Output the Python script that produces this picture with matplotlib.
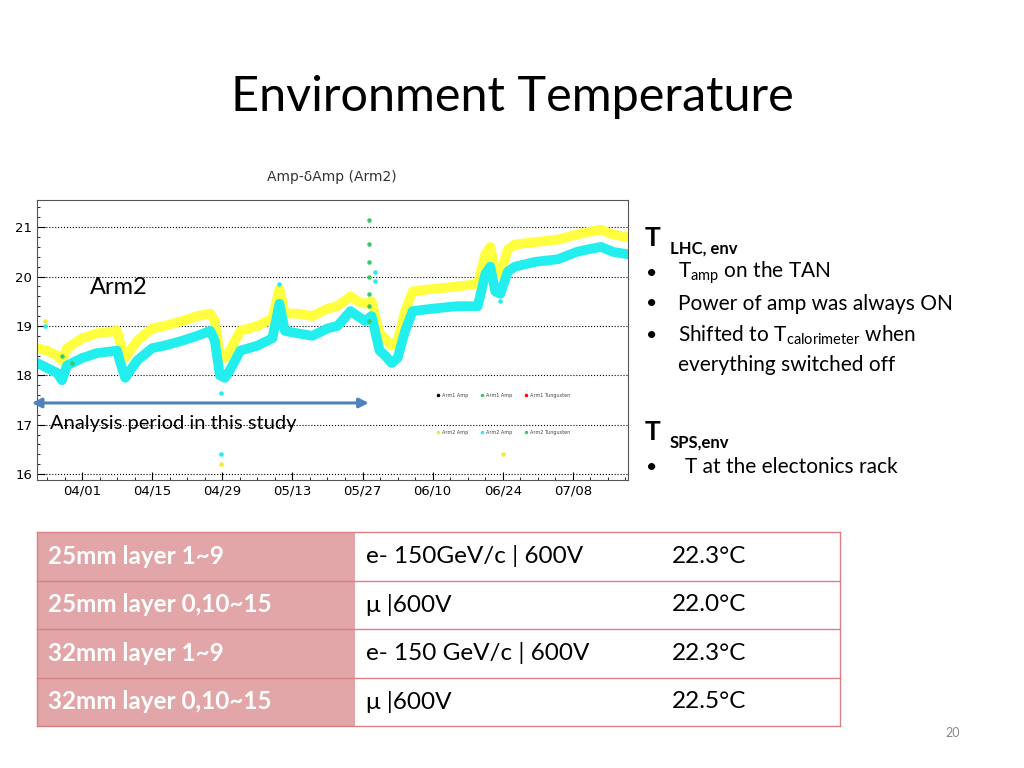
import matplotlib.pyplot as plt
from matplotlib import rcParams

rcParams['font.family'] = 'Lato'
rcParams['mathtext.fontset'] = 'custom'
rcParams['mathtext.rm'] = 'Lato'

# ---- chart data (days since 04/01) ----
days = [-9, -7, -5, -4, -3, 0, 3, 7, 7.5, 8.6, 11, 14, 16.4, 20, 23, 25.6, 26.5, 27.5,
        28.5, 29.5, 31.6, 35, 38, 39.4, 40.5, 43, 46, 49, 51, 53.6, 55, 56.5, 57.8,
        59.4, 60.5, 61.8, 63, 64.5, 66, 70, 75, 79, 80.5, 81.5, 82.5, 83.5, 85,
        86.4, 90.6, 95, 98.8, 101, 103.6, 106, 109]
cyan_t = [18.25, 18.15, 18.05, 17.9, 18.2, 18.35, 18.45, 18.5, 18.3, 17.95, 18.3, 18.55,
          18.6, 18.7, 18.8, 18.9, 18.7, 18.0, 17.95, 18.1, 18.5, 18.6, 18.75, 19.45,
          18.9, 18.85, 18.8, 18.95, 19.0, 19.3, 19.2, 19.1, 19.2, 18.5, 18.4, 18.25,
          18.35, 18.9, 19.3, 19.35, 19.4, 19.4, 20.05, 20.2, 19.7, 19.65, 20.1,
          20.2, 20.3, 20.35, 20.5, 20.55, 20.6, 20.5, 20.45]
yellow_t = [18.55, 18.5, 18.4, 18.3, 18.55, 18.75, 18.85, 18.9, 18.7, 18.35, 18.7, 18.95,
            19.0, 19.1, 19.2, 19.25, 19.1, 18.45, 18.35, 18.5, 18.9, 19.0, 19.15, 19.75,
            19.25, 19.25, 19.2, 19.35, 19.4, 19.6, 19.5, 19.45, 19.5, 18.85, 18.75,
            18.6, 18.7, 19.3, 19.7, 19.75, 19.8, 19.85, 20.45, 20.6, 20.1, 20.05,
            20.55, 20.65, 20.7, 20.75, 20.85, 20.9, 20.95, 20.85, 20.8]
green_days = [57.2, 57.2, 57.2, 57.2, 57.2, 57.2, 57.2, -4, -2]
green_vals = [21.15, 20.65, 20.3, 20.0, 19.65, 19.4, 19.1, 18.4, 18.25]
cyan_out_days = [27.8, 27.8, 58.5, 58.5, 83.5, -7.5, 39.3]
cyan_out_vals = [16.4, 17.65, 20.1, 19.9, 19.5, 19.0, 19.85]
yellow_out_days = [27.8, 84, -7.5]
yellow_out_vals = [16.2, 16.4, 19.1]

tick_days = [0, 14, 28, 42, 56, 70, 84, 98]
tick_labels = ['04/01', '04/15', '04/29', '05/13', '05/27', '06/10', '06/24', '07/08']

# ---- table data ----
row_names = ['25mm layer 1~9', '25mm layer 0,10~15', '32mm layer 1~9', '32mm layer 0,10~15']
row_beam = ['e- 150GeV/c | 600V', 'μ |600V', 'e- 150 GeV/c | 600V', 'μ |600V']
row_temp = ['22.3°C', '22.0°C', '22.3°C', '22.5°C']

W, H = 1024, 768
fig = plt.figure(figsize=(10.24, 7.68), dpi=100)


def px(x, y):
    return x / W, 1 - y / H


fig.text(*px(512, 97), 'Environment Temperature', ha='center', va='center', fontsize=35)
fig.text(*px(332, 177), 'Amp-δAmp (Arm2)', ha='center', va='center', fontsize=10,
         family='DejaVu Sans', color='#333333')

ax = fig.add_axes([37 / W, 1 - 480 / H, 591 / W, 280 / H])
ax.plot(days, yellow_t, color='#ffff40', lw=7, solid_joinstyle='round')
ax.plot(days, cyan_t, color='#22eeee', lw=7, solid_joinstyle='round')
ax.scatter(green_days, green_vals, s=5, color='#33cc66', zorder=3)
ax.scatter(cyan_out_days, cyan_out_vals, s=5, color='#22eeee', zorder=3)
ax.scatter(yellow_out_days, yellow_out_vals, s=5, color='#eeee30', zorder=3)
ax.set_xlim(-9, 109)
ax.set_ylim(15.88, 21.55)
ax.set_xticks(tick_days)
ax.set_xticklabels(tick_labels)
ax.set_yticks([16, 17, 18, 19, 20, 21])
ax.minorticks_on()
ax.tick_params(which='both', direction='in', labelsize=9.5)
ax.tick_params(which='major', length=6)
ax.grid(axis='y', which='major', linestyle=':', color='black', lw=0.8)
for s in ax.spines.values():
    s.set_linewidth(0.8)
    s.set_color('#555555')
for lab in ax.get_xticklabels() + ax.get_yticklabels():
    lab.set_family('DejaVu Sans')

# tiny legend
leg1 = [('Arm1 Amp', 'black'), ('Arm1 Amp', '#33cc66'), ('Arm1 Tungusten', 'red')]
leg2 = [('Arm2 Amp', '#eeee30'), ('Arm2 Amp', '#22eeee'), ('Arm2 Tungusten', '#33cc66')]
for row, yv in ((leg1, 17.6), (leg2, 16.85)):
    for i, (t, c) in enumerate(row):
        ax.plot(71 + i * 8.8, yv, 'o', ms=1.5, color=c)
        ax.text(71.8 + i * 8.8, yv, t, fontsize=3.5, va='center', color='#444444',
                family='DejaVu Sans')

ax.annotate('', xy=(-10.6, 17.44), xytext=(57.8, 17.44),
            arrowprops=dict(arrowstyle='<|-|>', color='#4f81bd', lw=2.2,
                            mutation_scale=14), annotation_clip=False)
fig.text(*px(50, 424), 'Analysis period in this study', fontsize=14.5, va='center')
fig.text(*px(90, 288), 'Arm2', fontsize=17, va='center')

# right text block
fig.text(*px(645, 238), 'T', fontsize=19, weight='bold', va='center')
fig.text(*px(670, 249), 'LHC, env', fontsize=12, weight='bold', va='center')
fig.text(*px(645, 432), 'T', fontsize=19, weight='bold', va='center')
fig.text(*px(670, 443), 'SPS,env', fontsize=12, weight='bold', va='center')
for yy in (273, 304, 335, 467):
    fig.text(*px(646, yy), '•', fontsize=14, va='center')
fig.text(*px(678, 273), r'T$_{\mathrm{amp}}$ on the TAN', fontsize=15, va='center')
fig.text(*px(678, 304), 'Power of amp was always ON', fontsize=15, va='center')
fig.text(*px(678, 335), r'Shifted to T$_{\mathrm{calorimeter}}$ when', fontsize=15,
         va='center')
fig.text(*px(678, 365), 'everything switched off', fontsize=15, va='center')
fig.text(*px(685, 467), 'T at the electonics rack', fontsize=15, va='center')

# table
tx = fig.add_axes([0, 0, 1, 1])
tx.set_xlim(0, W)
tx.set_ylim(H, 0)
tx.axis('off')
row_y = [532, 580.5, 629, 677.5, 726]
for i in range(4):
    y0, y1 = row_y[i], row_y[i + 1]
    tx.fill_between([37, 355], y0, y1, color='#e2a5a8', lw=0)
    tx.plot([37, 840], [y0, y0], color='#d97f86', lw=1)
    ym = (y0 + y1) / 2
    tx.text(48, ym, row_names[i], color='white', weight='bold', fontsize=17.5, va='center')
    tx.text(366, ym, row_beam[i], fontsize=17.5, va='center')
    tx.text(672, ym, row_temp[i], fontsize=17.5, va='center')
tx.plot([37, 840], [726, 726], color='#d97f86', lw=1)
tx.plot([37, 37], [532, 726], color='#d97f86', lw=1)
tx.plot([840, 840], [532, 726], color='#d97f86', lw=1)

fig.text(*px(953, 733), '20', fontsize=9, color='#888888', ha='center', va='center')

fig.savefig('out.png', dpi=100)
